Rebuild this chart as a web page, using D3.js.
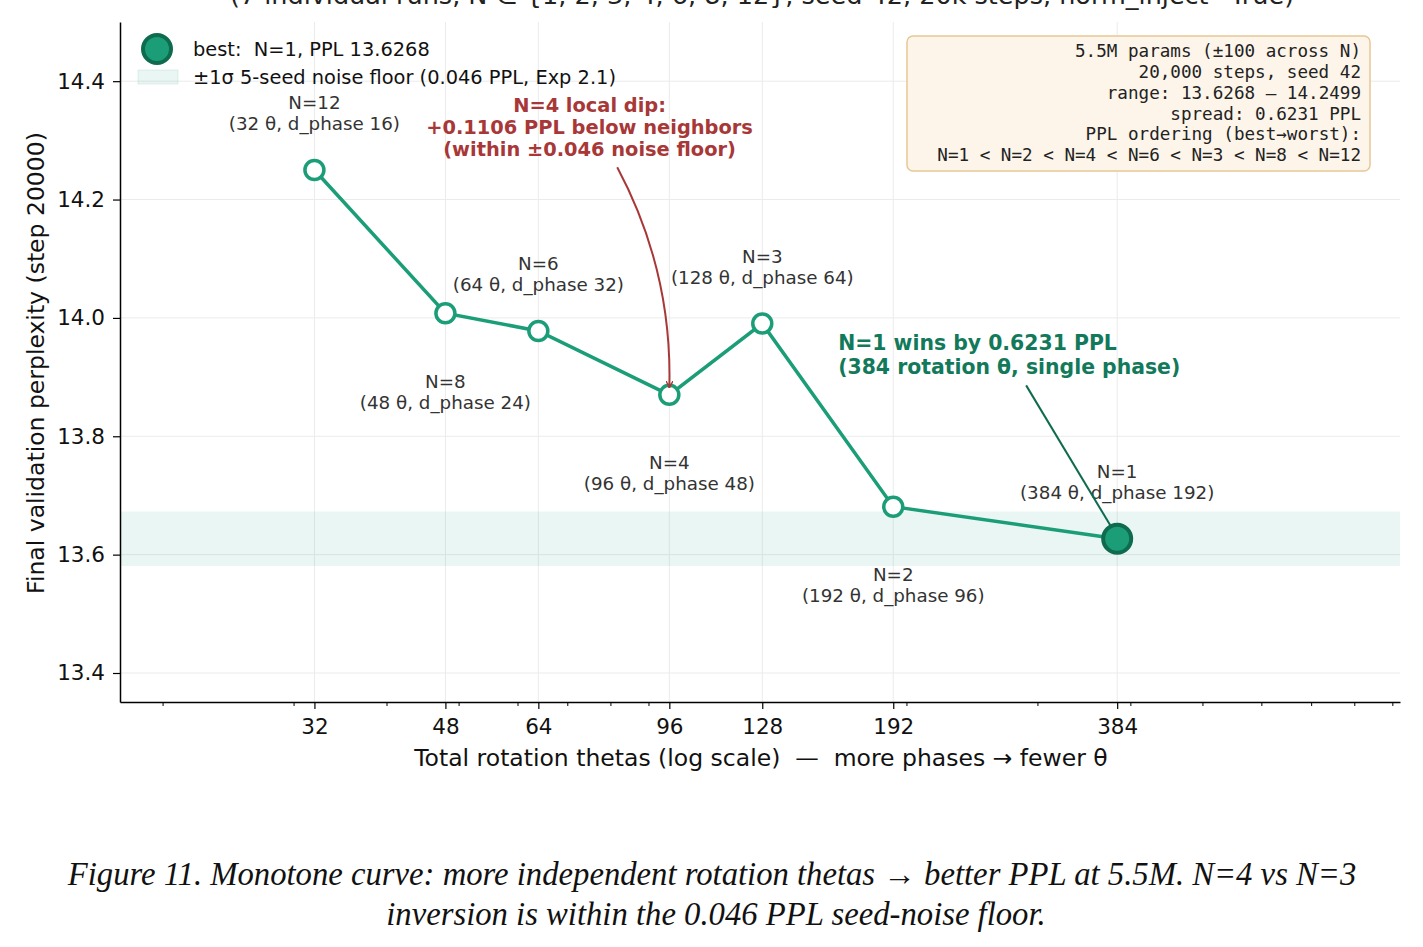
<!DOCTYPE html>
<html>
<head>
<meta charset="utf-8">
<script src="https://cdn.jsdelivr.net/npm/d3@7"></script>
<style>
  body { margin: 0; background: #fff; }
  svg { display: block; font-family: "DejaVu Sans", sans-serif; }
  svg text { white-space: pre; }
</style>
</head>
<body>
<div id="chart"></div>
<script>
// data
const phases = [12, 8, 6, 4, 3, 2, 1];
const thetas = [32, 48, 64, 96, 128, 192, 384];
const dPhase = [16, 24, 32, 48, 64, 96, 192];
const ppl = [14.2499, 14.008, 13.978, 13.870, 13.9905, 13.681, 13.6268];
const labelSide = ["above", "below", "above", "below", "above", "below", "above"];
const xTicks = [32, 48, 64, 96, 128, 192, 384];
const yTicks = [13.4, 13.6, 13.8, 14.0, 14.2, 14.4];
const noiseSigma = 0.046;
const bestIdx = 6;

const infoLines = [
  "5.5M params (±100 across N)",
  "20,000 steps, seed 42",
  "range: 13.6268 – 14.2499",
  "spread: 0.6231 PPL",
  "PPL ordering (best→worst):",
  "N=1 < N=2 < N=4 < N=6 < N=3 < N=8 < N=12"
];

const teal = "#1b9e77";
const darkTeal = "#0f6b4e";
const red = "#a83838";

const W = 1423, H = 947;
const plot = { left: 120, right: 1400, top: 22, bottom: 702 };

const svg = d3.select("#chart").append("svg")
    .attr("width", W)
    .attr("height", H);

const x = d3.scaleLog().domain([17.53, 921.6]).range([plot.left, plot.right]);
const y = d3.scaleLinear().domain([13.351, 14.5]).range([plot.bottom, plot.top]);

// title (clipped off at the top in the original)
svg.append("text")
    .attr("x", 762)
    .attr("y", 4)
    .attr("text-anchor", "middle")
    .style("font-size", "25.5px")
    .style("fill", "#222")
    .text("(7 individual runs, N ∈ {1, 2, 3, 4, 6, 8, 12}, seed 42, 20k steps, norm_inject=True)");

// grid
svg.append("g").selectAll("line")
    .data(yTicks).join("line")
    .attr("x1", plot.left).attr("x2", plot.right)
    .attr("y1", d => y(d)).attr("y2", d => y(d))
    .style("stroke", "#ebebeb").style("stroke-width", 1);

svg.append("g").selectAll("line")
    .data(xTicks).join("line")
    .attr("y1", plot.top).attr("y2", plot.bottom)
    .attr("x1", d => x(d)).attr("x2", d => x(d))
    .style("stroke", "#ebebeb").style("stroke-width", 1);

// noise floor band
const best = ppl[bestIdx];
svg.append("rect")
    .attr("x", plot.left)
    .attr("width", plot.right - plot.left)
    .attr("y", y(best + noiseSigma))
    .attr("height", y(best - noiseSigma) - y(best + noiseSigma))
    .style("fill", teal)
    .style("fill-opacity", 0.09);

// axes
const minorTicks = [20, 30, 40, 50, 60, 70, 80, 90, 200, 300, 400, 500, 600, 700, 800, 900]
    .filter(d => !xTicks.includes(d));

const gX = svg.append("g")
    .attr("transform", `translate(0, ${plot.bottom})`)
    .call(d3.axisBottom(x).tickValues(xTicks).tickFormat(d3.format("d")).tickSize(7).tickPadding(10).tickSizeOuter(0));
svg.append("g")
    .attr("transform", `translate(0, ${plot.bottom})`)
    .call(d3.axisBottom(x).tickValues(minorTicks).tickFormat("").tickSize(4).tickSizeOuter(0))
    .call(g => g.select(".domain").remove());

const gY = svg.append("g")
    .attr("transform", `translate(${plot.left}, 0)`)
    .call(d3.axisLeft(y).tickValues(yTicks).tickFormat(d3.format(".1f")).tickSize(7).tickPadding(8).tickSizeOuter(0));

[gX, gY].forEach(g => {
  g.style("font-family", "DejaVu Sans").style("font-size", "21.5px");
  g.selectAll(".domain").style("stroke", "#000").style("stroke-width", 1.5);
  g.selectAll(".tick line").style("stroke", "#000").style("stroke-width", 1.2);
  g.selectAll(".tick text").style("fill", "#111");
});
svg.selectAll(".tick line").style("stroke", "#000");

svg.append("text")
    .attr("x", 761)
    .attr("y", 766)
    .attr("text-anchor", "middle")
    .style("font-size", "23.5px")
    .style("fill", "#111")
    .text("Total rotation thetas (log scale)  —  more phases → fewer θ");

svg.append("text")
    .attr("transform", `translate(44, 363) rotate(-90)`)
    .attr("text-anchor", "middle")
    .style("font-size", "23.5px")
    .style("fill", "#111")
    .text("Final validation perplexity (step 20000)");

// the curve
const pts = thetas.map((t, i) => ({ t, v: ppl[i], n: phases[i], d: dPhase[i], side: labelSide[i] }));

svg.append("path")
    .datum(pts)
    .attr("d", d3.line().x(d => x(d.t)).y(d => y(d.v)))
    .style("fill", "none")
    .style("stroke", teal)
    .style("stroke-width", 3.5);

svg.append("g").selectAll("circle")
    .data(pts.filter((d, i) => i !== bestIdx)).join("circle")
    .attr("cx", d => x(d.t))
    .attr("cy", d => y(d.v))
    .attr("r", 9.5)
    .style("fill", "#fff")
    .style("stroke", teal)
    .style("stroke-width", 3.5);

svg.append("circle")
    .attr("cx", x(pts[bestIdx].t))
    .attr("cy", y(pts[bestIdx].v))
    .attr("r", 14)
    .style("fill", teal)
    .style("stroke", darkTeal)
    .style("stroke-width", 4);

// point labels
const lbl = svg.append("g").selectAll("g")
    .data(pts).join("g")
    .attr("transform", d => `translate(${x(d.t)}, ${y(d.v) + (d.side === "above" ? -67 : 68)})`)
    .style("font-size", "18.3px")
    .style("fill", "#333")
    .attr("text-anchor", "middle");
lbl.append("text").attr("dy", "0.35em").text(d => `N=${d.n}`);
lbl.append("text").attr("y", 21).attr("dy", "0.35em").text(d => `(${d.t} θ, d_phase ${d.d})`);

// red annotation: N=4 dip
const dip = pts[3];
const redText = svg.append("text")
    .attr("text-anchor", "middle")
    .style("font-size", "19.4px")
    .style("font-weight", "bold")
    .style("fill", red);
["N=4 local dip:", "+0.1106 PPL below neighbors", "(within ±0.046 noise floor)"].forEach((s, i) => {
  redText.append("tspan")
      .attr("x", x(75))
      .attr("y", y(14.322) + (i - 1) * 22)
      .attr("dy", "0.35em")
      .text(s);
});

svg.append("defs").append("marker")
    .attr("id", "redhead")
    .attr("viewBox", "0 0 10 10")
    .attr("refX", 10).attr("refY", 5)
    .attr("markerWidth", 7).attr("markerHeight", 7)
    .attr("markerUnits", "userSpaceOnUse")
    .attr("orient", "auto")
    .append("path")
    .attr("d", "M0,0 L10,5 L0,10")
    .style("fill", "none")
    .style("stroke", red)
    .style("stroke-width", 2);

{
  const x0 = x(81.7), y0 = y(14.2545);
  const x1 = x(dip.t), y1 = y(dip.v) - 7;
  const mx = (x0 + x1) / 2, my = (y0 + y1) / 2;
  const dx = x1 - x0, dy = y1 - y0, len = Math.hypot(dx, dy);
  const cx = mx + (dy / len) * 30, cy = my - (dx / len) * 30;
  svg.append("path")
      .attr("d", `M${x0},${y0} Q${cx},${cy} ${x1},${y1}`)
      .style("fill", "none")
      .style("stroke", red)
      .style("stroke-width", 2)
      .attr("marker-end", "url(#redhead)");
}

// green annotation: N=1 wins
const win = pts[bestIdx];
const greenText = svg.append("text")
    .style("font-size", "20.4px")
    .style("font-weight", "bold")
    .style("fill", "#12795a");
["N=1 wins by 0.6231 PPL", "(384 rotation θ, single phase)"].forEach((s, i) => {
  greenText.append("tspan")
      .attr("x", x(161.9))
      .attr("y", y(13.958) + i * 24)
      .attr("dy", "0.35em")
      .text(s);
});
svg.append("line")
    .attr("x1", x(289.7)).attr("y1", y(13.886))
    .attr("x2", x(win.t) - 6).attr("y2", y(win.v) - 12)
    .style("stroke", darkTeal)
    .style("stroke-width", 2);

// legend
const leg = svg.append("g").style("font-size", "19.4px").style("fill", "#111");
leg.append("circle").attr("cx", 157).attr("cy", 49).attr("r", 14)
    .style("fill", teal).style("stroke", darkTeal).style("stroke-width", 4);
leg.append("text").attr("x", 193).attr("y", 49).attr("dy", "0.35em").text("best:  N=1, PPL 13.6268");
leg.append("rect").attr("x", 138).attr("y", 70).attr("width", 40).attr("height", 14)
    .style("fill", teal).style("fill-opacity", 0.09)
    .style("stroke", teal).style("stroke-opacity", 0.12);
leg.append("text").attr("x", 193).attr("y", 77).attr("dy", "0.35em").text("±1σ 5-seed noise floor (0.046 PPL, Exp 2.1)");

// info box
svg.append("rect")
    .attr("x", 907).attr("y", 36)
    .attr("width", 463).attr("height", 135)
    .attr("rx", 6)
    .style("fill", "#fdf5ea")
    .style("stroke", "#e6c894")
    .style("stroke-width", 1.5);
svg.append("g").selectAll("text")
    .data(infoLines).join("text")
    .attr("x", 1361)
    .attr("y", (d, i) => 51 + i * 20.8)
    .attr("dy", "0.35em")
    .attr("text-anchor", "end")
    .style("font-family", "DejaVu Sans Mono, monospace")
    .style("font-size", "17.6px")
    .style("fill", "#222")
    .text(d => d);

// caption
const cap = svg.append("text")
    .attr("text-anchor", "middle")
    .style("font-family", "Liberation Serif, serif")
    .style("font-style", "italic")
    .style("font-size", "32.7px")
    .style("fill", "#111");
cap.append("tspan").attr("x", 712).attr("y", 885)
    .text("Figure 11. Monotone curve: more independent rotation thetas → better PPL at 5.5M. N=4 vs N=3");
cap.append("tspan").attr("x", 716).attr("y", 925)
    .text("inversion is within the 0.046 PPL seed-noise floor.");
</script>
</body>
</html>
